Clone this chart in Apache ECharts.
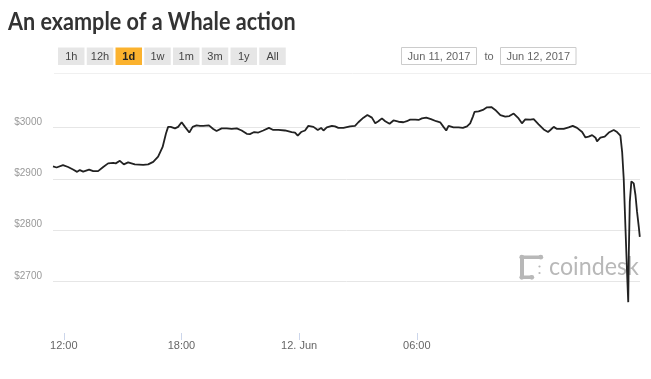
<!DOCTYPE html>
<html><head><meta charset="utf-8">
<script src="https://cdn.jsdelivr.net/npm/echarts@6/dist/echarts.min.js"></script>
<style>html,body{margin:0;padding:0;background:#fff}#c{width:651px;height:379px}</style>
</head><body><div id="c"></div>
<script>
// hours since Jun 11, 2017 00:00
const hours = [11.45,11.63,11.96,12.22,12.47,12.68,12.82,12.99,13.29,13.50,13.75,14.01,14.26,14.52,14.65,14.86,15.06,15.28,15.62,16.05,16.30,16.56,16.81,17.04,17.21,17.32,17.45,17.67,17.83,18.01,18.18,18.40,18.57,18.77,18.94,19.11,19.40,19.62,19.79,20.05,20.31,20.56,20.82,21.07,21.33,21.49,21.71,21.92,22.17,22.46,22.68,22.94,23.28,23.62,23.79,23.93,24.10,24.30,24.47,24.56,24.73,24.95,25.12,25.24,25.41,25.67,25.83,26.00,26.26,26.34,26.60,26.85,27.02,27.28,27.48,27.71,27.88,28.04,28.22,28.39,28.61,28.81,29.07,29.32,29.49,29.66,29.92,30.09,30.26,30.48,30.72,30.99,31.19,31.36,31.50,31.62,31.87,32.13,32.35,32.56,32.72,32.86,32.94,33.15,33.37,33.58,33.80,34.00,34.26,34.51,34.72,34.94,35.19,35.36,35.53,35.79,35.96,36.21,36.47,36.69,36.81,36.98,37.15,37.49,37.74,37.95,38.17,38.43,38.60,38.76,38.94,39.11,39.19,39.36,39.58,39.79,40.04,40.21,40.38,40.47,40.55,40.64,40.72,40.78,40.81,40.86,40.94,41.06,41.15,41.23,41.32,41.37];
const prices = [2924,2922,2926.5,2923,2918,2913.5,2917,2914,2918,2915,2915,2923,2930,2931,2930,2935,2928,2932,2928,2927,2928,2933,2943,2962,2988,3001,3001,2998,3001,3010,3001,2990,3001,3004,3003,3003,3004,2997,2993,2998,2998,2997,2998,2994,2987.5,2987,2991,2990,2994,2999,2995,2995,2994,2991,2990,2984,2991,2994,3003,3006,3001,2995,2999,2994,3000,3003,3002,2999,2999,3000,3002,3003,3010,3019,3024,3019,3008,3012,3017.5,3012,3007,3013.5,3011,3010,3012,3015,3015,3014.5,3017.5,3019,3016,3012,3010,3001,2994,3003,3000,3000,2999,3002,3008,3021,3030,3031,3034,3039,3039.5,3034,3024,3021,3022,3027,3017.5,3008,3015.5,3015,3016,3006,2996,2991,2995,3001,2997,2997,3000,3003,2999,2991,2980.5,2982,2985,2980,2973,2980,2982,2990,2995,2991,2984,2952,2900,2803,2718,2660,2757,2855,2895,2891,2868,2835.5,2806,2787];
const tickHours = [12, 18, 24, 30];
const tickLabels = ['12:00', '18:00', '12. Jun', '06:00'];
const rangeButtons = ['1h', '12h', '1d', '1w', '1m', '3m', '1y', 'All'];
const selectedRange = '1d';
const dateFrom = 'Jun 11, 2017';
const dateTo = 'Jun 12, 2017';
const titleText = 'An example of a Whale action';
const watermark = 'coindesk';

const chart = echarts.init(document.getElementById('c'), null, {renderer: 'canvas'});
const graphics = [];
graphics.push({type: 'text', x: 8, y: 10, scaleX: 0.9, style: {text: titleText, verticalAlign: 'top', fontFamily: 'Lato', fontWeight: 'bold', fontSize: 24, fill: '#333'}});
rangeButtons.forEach((b, i) => {
  const sel = b === selectedRange;
  const x = 58 + i * 28.75;
  graphics.push({type: 'rect', shape: {x: x, y: 47.5, width: 26.5, height: 17.5}, style: {fill: sel ? '#fbb22e' : '#e6e6e6'}});
  graphics.push({type: 'text', x: x + 13.25, y: 56.5, style: {text: b, align: 'center', verticalAlign: 'middle', fontFamily: 'Liberation Sans', fontSize: 11, fontWeight: sel ? 'bold' : 'normal', fill: sel ? '#222' : '#444'}});
});
graphics.push({type: 'line', shape: {x1: 54, y1: 73.5, x2: 651, y2: 73.5}, style: {stroke: '#f0f0f0', lineWidth: 1}});
[[401.5, 75, dateFrom], [500.5, 75.5, dateTo]].forEach(d => {
  graphics.push({type: 'rect', shape: {x: d[0], y: 47.5, width: d[1], height: 17}, style: {fill: '#fff', stroke: '#cccccc', lineWidth: 1}});
  graphics.push({type: 'text', x: d[0] + d[1] / 2, y: 56.5, style: {text: d[2], align: 'center', verticalAlign: 'middle', fontFamily: 'Liberation Sans', fontSize: 11, fill: '#666'}});
});
graphics.push({type: 'text', x: 489, y: 57, style: {text: 'to', align: 'center', verticalAlign: 'middle', fontFamily: 'Liberation Sans', fontSize: 11, fill: '#666'}});
// watermark logo
const wm = '#b8b8b8';
graphics.push({type: 'rect', shape: {x: 520, y: 255.5, width: 22.5, height: 3.4, r: 1.7}, style: {fill: wm}});
graphics.push({type: 'rect', shape: {x: 520, y: 255.5, width: 4, height: 23.5, r: 2}, style: {fill: wm}});
graphics.push({type: 'rect', shape: {x: 520, y: 275.6, width: 13.5, height: 3.4, r: 1.7}, style: {fill: wm}});
[[521.8, 257.2], [540.8, 257.2], [521.8, 277.3], [531.8, 277.3]].forEach(p => graphics.push({type: 'circle', shape: {cx: p[0], cy: p[1], r: 2.4}, style: {fill: wm}}));
[[539.5, 266.5], [539.5, 273]].forEach(p => graphics.push({type: 'circle', shape: {cx: p[0], cy: p[1], r: 1.1}, style: {fill: wm}}));
graphics.push({type: 'text', x: 549, y: 267, scaleX: 0.93, style: {text: watermark, verticalAlign: 'middle', fontFamily: 'Lato', fontSize: 25, fill: wm}});

chart.setOption({
  animation: false,
  backgroundColor: '#fff',
  grid: {left: 53, right: 11, top: 76, bottom: 46},
  xAxis: {
    type: 'value', min: 11.45, max: 41.38,
    axisLine: {show: false},
    splitLine: {show: false},
    axisTick: {show: true, length: 7, lineStyle: {color: '#ccd6eb'}, customValues: tickHours},
    axisLabel: {customValues: tickHours, margin: 7, color: '#666', fontSize: 11, fontFamily: 'Liberation Sans',
      formatter: v => tickLabels[tickHours.indexOf(Math.round(v))] || ''}
  },
  yAxis: {
    type: 'value', min: 2600, max: 3100, interval: 100,
    axisLine: {show: false}, axisTick: {show: false},
    splitLine: {show: true, showMinLine: false, showMaxLine: false, lineStyle: {color: '#e6e6e6'}},
    axisLabel: {showMinLabel: false, showMaxLabel: false, margin: 11, color: '#999', fontSize: 10, fontFamily: 'Liberation Sans', verticalAlign: 'bottom', lineHeight: 11, formatter: v => '$' + v}
  },
  series: [{type: 'line', data: hours.map((h, i) => [h, prices[i]]), showSymbol: false, lineStyle: {color: '#222', width: 1.8}, z: 3}],
  graphic: graphics
});
</script></body></html>
